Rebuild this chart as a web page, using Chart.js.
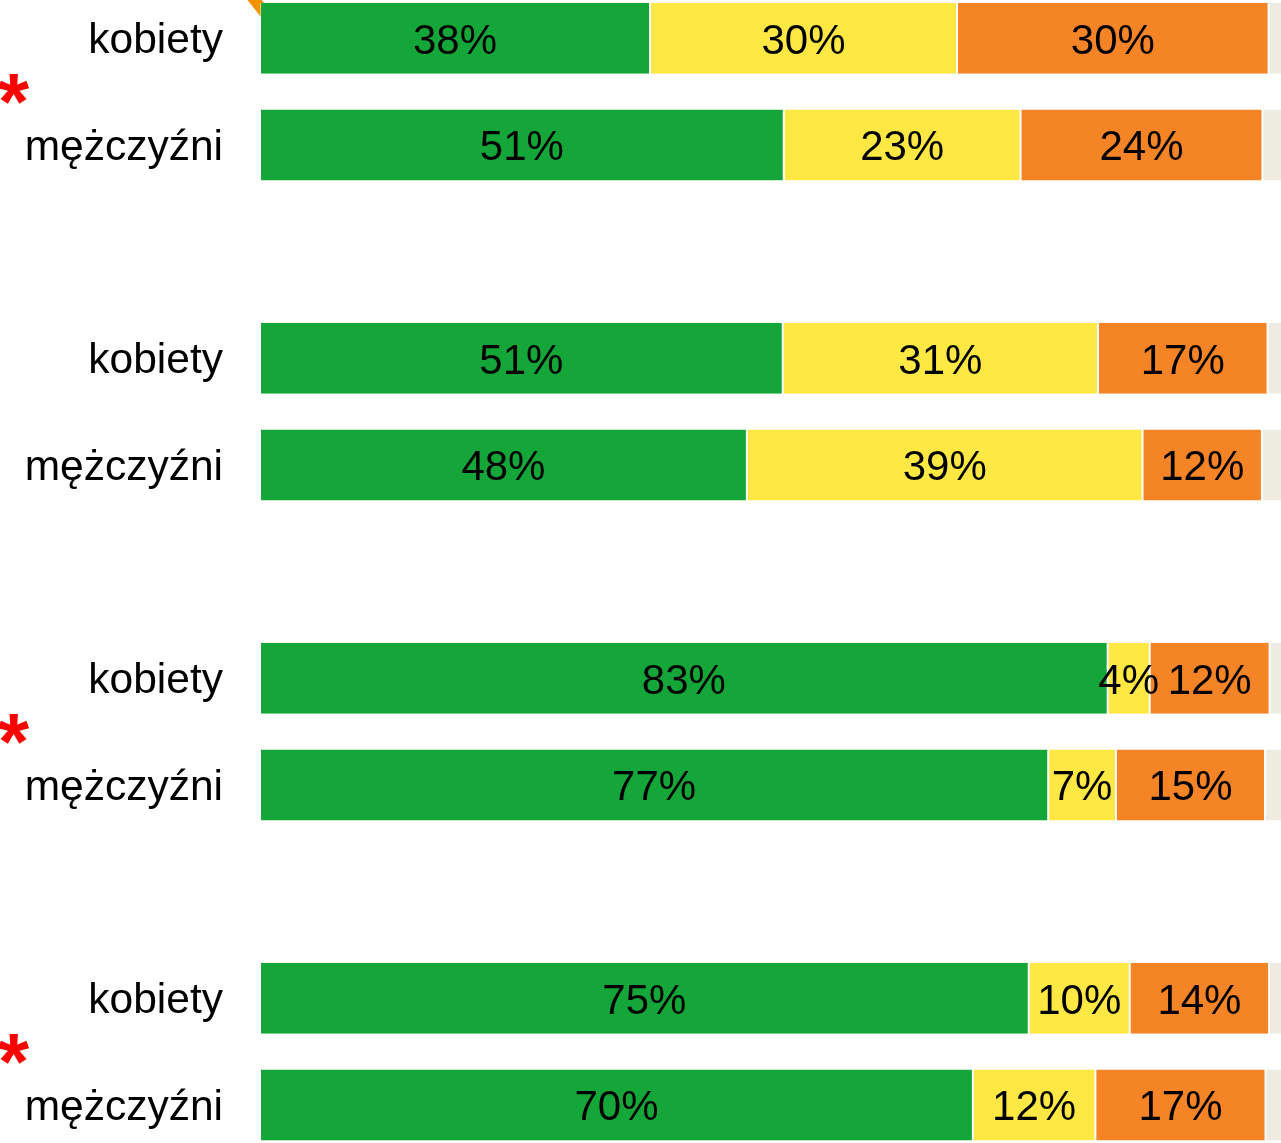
<!DOCTYPE html>
<html>
<head>
<meta charset="utf-8">
<script src="https://cdn.jsdelivr.net/npm/chart.js@4"></script>
<style>
  html, body { margin: 0; padding: 0; background: #fff; overflow: hidden; }
  #wrap { position: absolute; left: 0; top: -15.33px; width: 1285px; height: 1173.33px; }
</style>
</head>
<body>
<div id="wrap"><canvas id="chart"></canvas></div>
<script>
// one entry per bar, pairs: kobiety / mężczyźni
const barLabels = ['kobiety', 'mężczyźni', 'kobiety', 'mężczyźni', 'kobiety', 'mężczyźni', 'kobiety', 'mężczyźni'];
const greenValues = [38.05, 51.1, 51.0, 47.5, 82.7, 76.9, 75.0, 69.55];
const yellowValues = [29.95, 23.1, 30.75, 38.6, 4.1, 6.6, 9.85, 11.95];
const orangeValues = [30.4, 23.6, 16.55, 11.65, 11.7, 14.55, 13.6, 16.6];
const restValues = [1.6, 2.2, 1.7, 2.25, 1.5, 1.95, 1.55, 1.9];
// asterisk next to each pair
const significant = [true, false, true, true];

// put an empty slot between the pairs
function withGaps(arr, gapValue) {
    const out = [];
    arr.forEach((v, i) => {
        if (i > 0 && i % 2 === 0) out.push(gapValue);
        out.push(v);
    });
    return out;
}

Chart.defaults.font.family = '"Liberation Sans", Arial, sans-serif';
Chart.defaults.color = '#000';

const segmentLabels = {
    id: 'segmentLabels',
    beforeDatasetsDraw(chart) {
        // cut-off orange mark at the top, partly under the first bar
        const ctx = chart.ctx;
        ctx.save();
        ctx.strokeStyle = '#f39200';
        ctx.lineWidth = 11;
        ctx.beginPath();
        ctx.moveTo(249, 8);
        ctx.lineTo(268, 32);
        ctx.stroke();
        ctx.restore();
    },
    afterDatasetsDraw(chart) {
        const ctx = chart.ctx;
        ctx.save();
        ctx.font = '42px "Liberation Sans", Arial, sans-serif';
        ctx.fillStyle = '#000';
        ctx.textAlign = 'center';
        ctx.textBaseline = 'alphabetic';
        chart.data.datasets.forEach((ds, di) => {
            if (!ds.showValue) return;
            chart.getDatasetMeta(di).data.forEach((bar, i) => {
                const v = ds.data[i];
                if (v == null) return;
                const cx = (bar.x + bar.base) / 2;
                ctx.fillText(Math.round(v) + '%', cx, bar.y + 15.5);
            });
        });
        ctx.restore();
    }
};

const stars = {
    id: 'stars',
    afterDraw(chart) {
        const ctx = chart.ctx;
        const y = chart.scales.y;
        ctx.save();
        ctx.fillStyle = '#ff0000';
        ctx.font = 'bold 80px "Liberation Sans", Arial, sans-serif';
        ctx.textAlign = 'left';
        ctx.textBaseline = 'alphabetic';
        significant.forEach((s, g) => {
            if (!s) return;
            const mid = (y.getPixelForValue(g * 3) + y.getPixelForValue(g * 3 + 1)) / 2;
            ctx.fillText('*', -2, mid + 37);
        });
        ctx.restore();
    }
};

new Chart(document.getElementById('chart'), {
    type: 'bar',
    data: {
        labels: withGaps(barLabels, ''),
        datasets: [
            { data: withGaps(greenValues, null), backgroundColor: '#15a63a', showValue: true },
            { data: withGaps(yellowValues, null), backgroundColor: '#ffe843', showValue: true },
            { data: withGaps(orangeValues, null), backgroundColor: '#f58426', showValue: true },
            { data: withGaps(restValues, null), backgroundColor: '#eeebe0', showValue: false }
        ]
    },
    options: {
        indexAxis: 'y',
        responsive: true,
        maintainAspectRatio: false,
        animation: false,
        layout: { padding: 0 },
        datasets: {
            bar: {
                categoryPercentage: 1,
                barPercentage: 0.666,
                borderWidth: { left: 1, right: 1, top: 0, bottom: 0 },
                borderColor: 'rgba(255,255,255,0.5)',
                borderSkipped: false
            }
        },
        plugins: {
            legend: { display: false },
            tooltip: { enabled: false }
        },
        scales: {
            x: {
                stacked: true,
                min: 0,
                max: 100,
                display: false
            },
            y: {
                stacked: true,
                grid: { display: false, drawTicks: false },
                border: { display: false },
                ticks: {
                    padding: 37,
                    labelOffset: 3,
                    font: { size: 42.5 },
                    color: '#000'
                },
                afterFit(scale) {
                    scale.width = 260;
                    scale.paddingTop = 0;
                    scale.paddingBottom = 0;
                }
            }
        }
    },
    plugins: [segmentLabels, stars]
});
</script>
</body>
</html>
